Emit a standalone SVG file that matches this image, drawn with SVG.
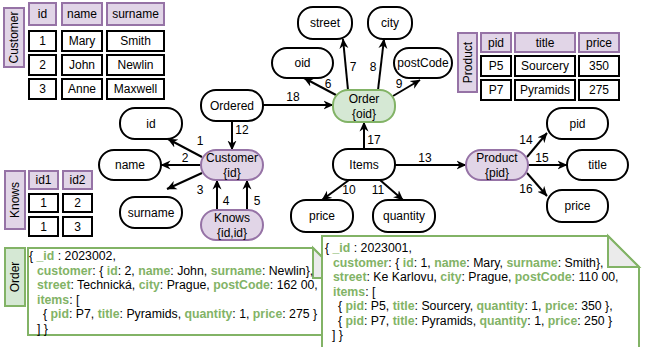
<svg xmlns="http://www.w3.org/2000/svg" width="651" height="347" viewBox="0 0 651 347">
<style>
text{font-family:"Liberation Sans",Arial,sans-serif;font-size:12px;fill:#000}
.c{text-anchor:middle;dominant-baseline:central}
.n{fill:#fff;stroke:#000;stroke-width:2}
.p{fill:#e1d5e7;stroke:#9673a6;stroke-width:2}
.g{fill:#d5e8d4;stroke:#82b366;stroke-width:2}
.d{fill:#fff;stroke:#000;stroke-width:2}
.e{fill:none;stroke:#000;stroke-width:2;marker-end:url(#a)}
.k{fill:#82b366;font-weight:bold}
.t{font-size:12.3px}
.note{fill:#fff;stroke:#82b366;stroke-width:2}
.fold{fill:#ebebeb;stroke:#82b366;stroke-width:2}
</style>
<defs>
<marker id="a" viewBox="0 0 10 10" refX="9.5" refY="5" markerWidth="10" markerHeight="10" orient="auto" markerUnits="userSpaceOnUse">
<path d="M0,0.5 L10,5 L0,9.5 L3,5 Z" fill="#000"/>
</marker>
</defs>

<g id="table-customer">
<rect class="p" x="4" y="8" width="20" height="59"/>
<text class="c" transform="translate(14,37.5) rotate(-90)">Customer</text>
<rect class="p" x="29" y="3" width="27" height="22"/><text class="c" x="42.5" y="14">id</text>
<rect class="p" x="62" y="3" width="40" height="22"/><text class="c" x="82" y="14">name</text>
<rect class="p" x="107" y="3" width="57" height="22"/><text class="c" x="135.5" y="14">surname</text>
<rect class="d" x="29" y="31" width="27" height="20"/><text class="c" x="42.5" y="41">1</text>
<rect class="d" x="62" y="31" width="40" height="20"/><text class="c" x="82" y="41">Mary</text>
<rect class="d" x="107" y="31" width="57" height="20"/><text class="c" x="135.5" y="41">Smith</text>
<rect class="d" x="29" y="55" width="27" height="20"/><text class="c" x="42.5" y="65">2</text>
<rect class="d" x="62" y="55" width="40" height="20"/><text class="c" x="82" y="65">John</text>
<rect class="d" x="107" y="55" width="57" height="20"/><text class="c" x="135.5" y="65">Newlin</text>
<rect class="d" x="29" y="79" width="27" height="20"/><text class="c" x="42.5" y="89">3</text>
<rect class="d" x="62" y="79" width="40" height="20"/><text class="c" x="82" y="89">Anne</text>
<rect class="d" x="107" y="79" width="57" height="20"/><text class="c" x="135.5" y="89">Maxwell</text>
</g>

<g id="table-knows">
<rect class="p" x="5" y="171" width="20" height="58"/>
<text class="c" transform="translate(15,200) rotate(-90)">Knows</text>
<rect class="p" x="29" y="171" width="29" height="18"/><text class="c" x="43.5" y="180">id1</text>
<rect class="p" x="63" y="171" width="29" height="18"/><text class="c" x="77.5" y="180">id2</text>
<rect class="d" x="29" y="194" width="29" height="18"/><text class="c" x="43.5" y="203">1</text>
<rect class="d" x="63" y="194" width="29" height="18"/><text class="c" x="77.5" y="203">2</text>
<rect class="d" x="29" y="217" width="29" height="19"/><text class="c" x="43.5" y="226.5">1</text>
<rect class="d" x="63" y="217" width="29" height="19"/><text class="c" x="77.5" y="226.5">3</text>
</g>

<g id="table-product">
<rect class="p" x="458" y="33" width="19" height="59"/>
<text class="c" transform="translate(467.5,62.5) rotate(-90)">Product</text>
<rect class="p" x="481" y="33" width="30" height="19"/><text class="c" x="496" y="42.5">pid</text>
<rect class="p" x="515" y="33" width="60" height="19"/><text class="c" x="545" y="42.5">title</text>
<rect class="p" x="579" y="33" width="40" height="19"/><text class="c" x="599" y="42.5">price</text>
<rect class="d" x="481" y="56" width="30" height="20"/><text class="c" x="496" y="66">P5</text>
<rect class="d" x="515" y="56" width="60" height="20"/><text class="c" x="545" y="66">Sourcery</text>
<rect class="d" x="579" y="56" width="40" height="20"/><text class="c" x="599" y="66">350</text>
<rect class="d" x="481" y="80" width="30" height="20"/><text class="c" x="496" y="90">P7</text>
<rect class="d" x="515" y="80" width="60" height="20"/><text class="c" x="545" y="90">Pyramids</text>
<rect class="d" x="579" y="80" width="40" height="20"/><text class="c" x="599" y="90">275</text>
</g>

<g id="connectors">
<path class="e" d="M202,157 L168,139"/>
<path class="e" d="M201,165 L161,165"/>
<path class="e" d="M202,173 L167,189"/>
<path class="e" d="M217,210 L217,180"/>
<path class="e" d="M247,210 L247,180"/>
<path class="e" d="M232,121 L232,150"/>
<path class="e" d="M263,105 L333,105"/>
<path class="e" d="M336,95 L304,78"/>
<path class="e" d="M348,90 L343,39"/>
<path class="e" d="M378,90 L384,39"/>
<path class="e" d="M393,96 L420,80"/>
<path class="e" d="M364,149 L364,122"/>
<path class="e" d="M395,165 L466,165"/>
<path class="e" d="M527,157 L547,133"/>
<path class="e" d="M528,165 L567,165"/>
<path class="e" d="M527,173 L547,196"/>
<path class="e" d="M349,180 L322,200"/>
<path class="e" d="M380,180 L403,200"/>
<text class="c" x="200" y="141">1</text>
<text class="c" x="185" y="158">2</text>
<text class="c" x="200" y="190">3</text>
<text class="c" x="226" y="201">4</text>
<text class="c" x="257" y="201">5</text>
<text class="c" x="242" y="130">12</text>
<text class="c" x="293" y="97">18</text>
<text class="c" x="328" y="84">6</text>
<text class="c" x="353" y="67">7</text>
<text class="c" x="373" y="67">8</text>
<text class="c" x="399" y="84">9</text>
<text class="c" x="374" y="140">17</text>
<text class="c" x="425" y="158">13</text>
<text class="c" x="526" y="140">14</text>
<text class="c" x="542" y="158">15</text>
<text class="c" x="526" y="189">16</text>
<text class="c" x="349" y="190">10</text>
<text class="c" x="378" y="190">11</text>
</g>

<g id="node-street"><rect class="n" x="298" y="7" width="54" height="32" rx="15"/><text class="c" x="325" y="23">street</text></g>
<g id="node-city"><rect class="n" x="368" y="7" width="44" height="32" rx="15"/><text class="c" x="390" y="23">city</text></g>
<g id="node-oid"><rect class="n" x="272" y="48" width="61" height="30" rx="15"/><text class="c" x="302.5" y="63">oid</text></g>
<g id="node-postCode"><rect class="n" x="394" y="48" width="58" height="30" rx="15"/><text class="c" x="423" y="63">postCode</text></g>
<g id="node-Ordered"><rect class="n" x="201" y="90" width="62" height="31" rx="15"/><text class="c" x="232" y="105.5">Ordered</text></g>
<g id="node-Order"><rect class="g" x="333" y="90" width="62" height="32" rx="15"/><text class="c" x="364" y="99">Order</text><text class="c" x="364" y="114">{oid}</text></g>
<g id="node-id"><rect class="n" x="120" y="108" width="62" height="31" rx="15"/><text class="c" x="151" y="123.5">id</text></g>
<g id="node-name"><rect class="n" x="99" y="150" width="62" height="30" rx="15"/><text class="c" x="130" y="165">name</text></g>
<g id="node-surname"><rect class="n" x="120" y="197" width="62" height="31" rx="15"/><text class="c" x="151" y="212.5">surname</text></g>
<g id="node-Customer"><rect class="p" x="201" y="150" width="62" height="30" rx="15"/><text class="c" x="232" y="158">Customer</text><text class="c" x="232" y="173">{id}</text></g>
<g id="node-Knows"><rect class="p" x="201" y="210" width="62" height="30" rx="15"/><text class="c" x="232" y="218">Knows</text><text class="c" x="232" y="233">{id,id}</text></g>
<g id="node-Items"><rect class="n" x="333" y="149" width="62" height="31" rx="15"/><text class="c" x="364" y="164.5">Items</text></g>
<g id="node-Product"><rect class="p" x="466" y="150" width="62" height="30" rx="15"/><text class="c" x="497" y="158">Product</text><text class="c" x="497" y="173">{pid}</text></g>
<g id="node-pid"><rect class="n" x="547" y="108" width="61" height="31" rx="15"/><text class="c" x="577.5" y="123.5">pid</text></g>
<g id="node-title"><rect class="n" x="567" y="150" width="61" height="30" rx="15"/><text class="c" x="597.5" y="165">title</text></g>
<g id="node-price2"><rect class="n" x="547" y="190" width="61" height="32" rx="15"/><text class="c" x="577.5" y="206">price</text></g>
<g id="node-price1"><rect class="n" x="291" y="200" width="62" height="32" rx="15"/><text class="c" x="322" y="216">price</text></g>
<g id="node-quantity"><rect class="n" x="373" y="200" width="62" height="32" rx="15"/><text class="c" x="404" y="216">quantity</text></g>

<g id="order-label">
<rect class="g" x="5" y="248" width="20" height="58"/>
<text class="c" transform="translate(15,277) rotate(-90)">Order</text>
</g>

<g id="note-order2">
<path class="note" d="M28,248 H313 L343,278 V335 H28 Z"/>
<path class="fold" d="M313,248 V278 H343 Z"/>
<text class="t" x="29" y="260">{ <tspan class="k">_id</tspan> : 2023002,</text>
<text class="t" x="37" y="274.5"><tspan class="k">customer</tspan>: { <tspan class="k">id</tspan>: 2, <tspan class="k">name</tspan>: John, <tspan class="k">surname</tspan>: Newlin},</text>
<text class="t" x="37" y="289"><tspan class="k">street</tspan>: Technická, <tspan class="k">city</tspan>: Prague, <tspan class="k">postCode</tspan>: 162 00,</text>
<text class="t" x="37" y="303.5"><tspan class="k">items</tspan>: [</text>
<text class="t" x="43" y="318">{ <tspan class="k">pid</tspan>: P7, <tspan class="k">title</tspan>: Pyramids, <tspan class="k">quantity</tspan>: 1, <tspan class="k">price</tspan>: 275 }</text>
<text class="t" x="37" y="332.5">] }</text>
</g>

<g id="note-order1">
<path class="note" d="M322,236 H608 L639,267 V352 H322 Z"/>
<path class="fold" d="M608,236 V267 H639 Z"/>
<text class="t" x="325" y="252">{ <tspan class="k">_id</tspan> : 2023001,</text>
<text class="t" x="333" y="266.5"><tspan class="k">customer</tspan>: { <tspan class="k">id</tspan>: 1, <tspan class="k">name</tspan>: Mary, <tspan class="k">surname</tspan>: Smith},</text>
<text class="t" x="333" y="281"><tspan class="k">street</tspan>: Ke Karlovu, <tspan class="k">city</tspan>: Prague, <tspan class="k">postCode</tspan>: 110 00,</text>
<text class="t" x="333" y="295.5"><tspan class="k">items</tspan>: [</text>
<text class="t" x="338" y="310">{ <tspan class="k">pid</tspan>: P5, <tspan class="k">title</tspan>: Sourcery, <tspan class="k">quantity</tspan>: 1, <tspan class="k">price</tspan>: 350 },</text>
<text class="t" x="338" y="324.5">{ <tspan class="k">pid</tspan>: P7, <tspan class="k">title</tspan>: Pyramids, <tspan class="k">quantity</tspan>: 1, <tspan class="k">price</tspan>: 250 }</text>
<text class="t" x="332" y="339">] }</text>
</g>
</svg>
